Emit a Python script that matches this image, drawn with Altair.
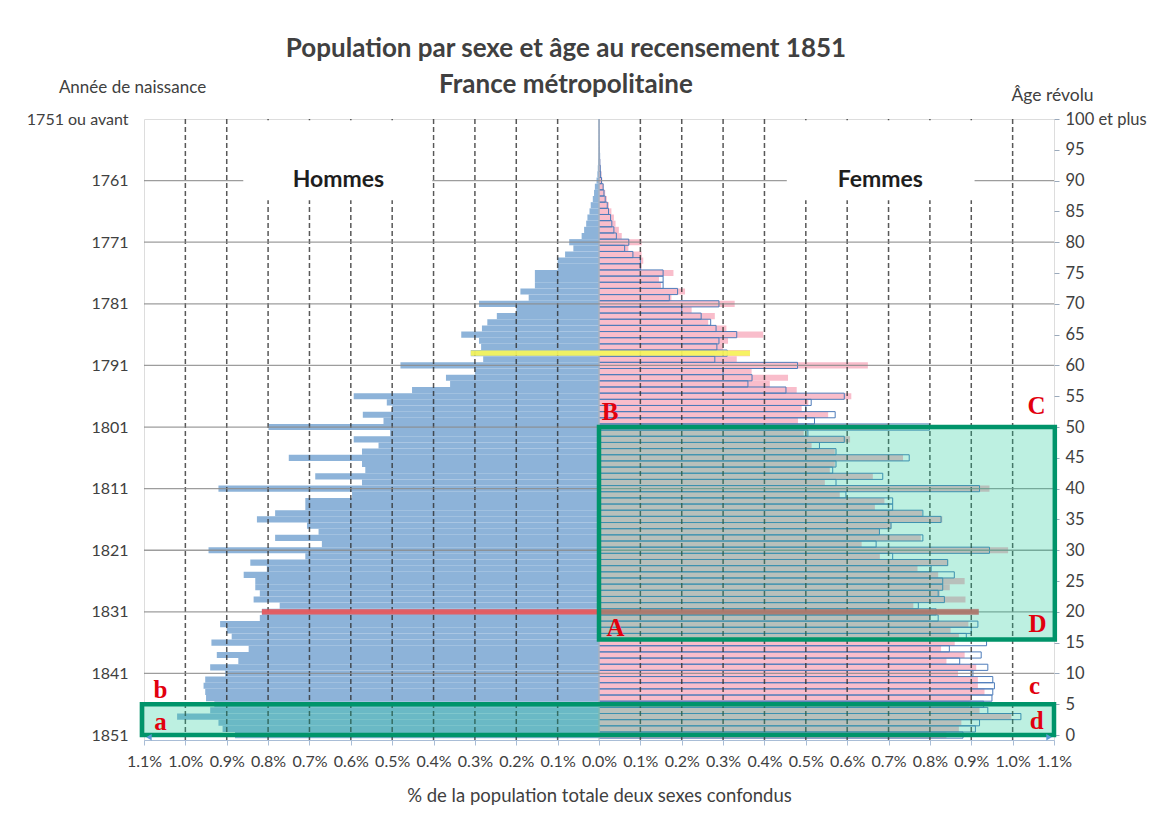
import altair as alt
import pandas as pd

# ---------------- data ----------------
AGES = list(range(101))

HOMMES = [
    0.88, 0.91, 0.92, 1.02, 0.94, 0.93, 0.95, 0.952, 0.956, 0.952,   # 0-9
    0.904, 0.94, 0.872, 0.924, 0.847, 0.937, 0.888, 0.90, 0.916, 0.82,  # 10-19
    0.815, 0.772, 0.835, 0.82, 0.831, 0.831, 0.859, 0.803, 0.843, 0.71,  # 20-29
    0.944, 0.67, 0.783, 0.678, 0.706, 0.827, 0.783, 0.71, 0.71, 0.597,   # 30-39
    0.92, 0.573, 0.686, 0.565, 0.573, 0.75, 0.573, 0.533, 0.593, 0.505,  # 40-49
    0.799, 0.521, 0.571, 0.50, 0.513, 0.593, 0.452, 0.36, 0.37, 0.30,    # 50-59
    0.48, 0.28, 0.31, 0.285, 0.29, 0.333, 0.283, 0.27, 0.247, 0.20,      # 60-69
    0.29, 0.17, 0.19, 0.155, 0.155, 0.155, 0.10, 0.10, 0.082, 0.062,     # 70-79
    0.072, 0.042, 0.036, 0.031, 0.028, 0.023, 0.02, 0.015, 0.012, 0.01,  # 80-89
    0.006, 0.004, 0.003, 0.002, 0.0015, 0.001, 0.0008, 0.0006, 0.0005, 0.0004,  # 90-99
    0.0004,                                                              # 100+
]

FEMMES = [
    0.84, 0.87, 0.876, 0.997, 0.92, 0.895, 0.90, 0.932, 0.916, 0.916,    # 0-9
    0.868, 0.912, 0.84, 0.884, 0.827, 0.86, 0.87, 0.85, 0.893, 0.80,     # 10-19
    0.918, 0.76, 0.886, 0.824, 0.848, 0.884, 0.82, 0.77, 0.844, 0.679,   # 20-29
    0.989, 0.635, 0.778, 0.679, 0.707, 0.83, 0.781, 0.667, 0.69, 0.582,  # 30-39
    0.944, 0.546, 0.662, 0.558, 0.57, 0.735, 0.57, 0.514, 0.607, 0.495,  # 40-49
    0.70, 0.481, 0.554, 0.49, 0.506, 0.61, 0.478, 0.413, 0.457, 0.369,   # 50-59
    0.65, 0.333, 0.365, 0.30, 0.312, 0.397, 0.308, 0.264, 0.28, 0.224,   # 60-69
    0.328, 0.175, 0.208, 0.15, 0.145, 0.18, 0.103, 0.107, 0.103, 0.071,  # 70-79
    0.103, 0.055, 0.048, 0.04, 0.036, 0.03, 0.024, 0.019, 0.015, 0.011,  # 80-89
    0.008, 0.006, 0.004, 0.003, 0.002, 0.0015, 0.001, 0.0008, 0.0006, 0.0005,  # 90-99
    0.0005,                                                              # 100+
]

X_TICKS = [round(-1.1 + 0.1 * i, 1) for i in range(23)]
X_TICK_LABELS = ["1.1%", "1.0%", "0.9%", "0.8%", "0.7%", "0.6%", "0.5%", "0.4%",
                 "0.3%", "0.2%", "0.1%", "0.0%", "0.1%", "0.2%", "0.3%", "0.4%",
                 "0.5%", "0.6%", "0.7%", "0.8%", "0.9%", "1.0%", "1.1%"]
GRID_X = [v for v in X_TICKS if abs(v) not in (0.0, 1.1)]
GRID_Y = [10, 20, 30, 40, 50, 60, 70, 80, 90]

LEFT_TICKS = [0, 10, 20, 30, 40, 50, 60, 70, 80, 90, 100]
LEFT_LABELS = ["1851", "1841", "1831", "1821", "1811", "1801", "1791", "1781",
               "1771", "1761", "1751 ou avant"]
RIGHT_TICKS = list(range(0, 101, 5))
RIGHT_LABELS = [str(v) for v in range(0, 100, 5)] + ["100 et plus"]

HIGHLIGHT_AGES = [62, 20]
HIGHLIGHT_COLORS = ["#f6f65a", "#e8585c"]

BOX_X0 = [0.0, -1.105]
BOX_X1 = [1.102, 1.1]
BOX_Y0 = [15.5, 0.0]
BOX_Y1 = [50.0, 5.0]

LETTERS = ["A", "B", "C", "D", "a", "b", "c", "d"]
LETTER_X = [0.04, 0.027, 1.058, 1.06, -1.06, -1.06, 1.053, 1.058]
LETTER_Y = [17.4, 52.4, 53.4, 18.0, 2.1, 7.3, 8.0, 2.3]

SEX_LABELS = ["Hommes", "Femmes"]
SEX_X = [-0.63, 0.68]
SEX_Y = [90.1, 90.1]
SEX_BOX_X0 = [-0.86, 0.454]
SEX_BOX_X1 = [-0.403, 0.908]
SEX_BOX_Y0 = [86.8, 86.8]
SEX_BOX_Y1 = [99.8, 99.8]

# ---------------- styles ----------------
MALE = "#8db3d9"
FEMALE = "#f9bdcb"
OUTLINE = "#4d7cba"
TXT = "#404040"
FONT = "Lato"

W, H = 910, 621


def ternary(ticks, labels):
    parts = [f"datum.value == {t} ? '{l}'" for t, l in zip(ticks, labels)]
    return " : ".join(parts) + " : ''"


x_expr = " : ".join(
    f"round(datum.value * 10) == {round(t * 10)} ? '{l}'" for t, l in zip(X_TICKS, X_TICK_LABELS)
) + " : ''"

xs = alt.Scale(domain=[-1.1, 1.1], nice=False, zero=False)
ys = alt.Scale(domain=[-0.8, 100], nice=False, zero=False)

x_axis = alt.Axis(orient="bottom", values=X_TICKS, labelExpr=x_expr, grid=False, ticks=True,
                  tickSize=5, tickColor="#a9bdd6", domain=True, domainColor="#a9bdd6",
                  labelFontSize=16, labelColor=TXT, labelPadding=8, labelFont=FONT,
                  labelFlush=False, labelOverlap=False,
                  title="% de la population totale deux sexes confondus",
                  titleFontSize=18.5, titleFontWeight="normal", titleColor=TXT,
                  titlePadding=17, titleFont=FONT)

left_axis = alt.Axis(orient="left", values=LEFT_TICKS, labelExpr=ternary(LEFT_TICKS, LEFT_LABELS),
                     grid=False, ticks=False, tickSize=0, domain=False,
                     labelFontSize=16, labelColor=TXT, labelPadding=16, labelFont=FONT,
                     labelOverlap=False,
                     title="Année de naissance", titleAngle=0, titleAlign="center",
                     titleBaseline="alphabetic", titleX=-12, titleY=-27,
                     titleFontSize=17, titleFontWeight="normal", titleColor=TXT, titleFont=FONT)

right_axis = alt.Axis(orient="right", values=RIGHT_TICKS, labelExpr=ternary(RIGHT_TICKS, RIGHT_LABELS),
                      grid=False, ticks=True, tickSize=5, tickColor="#9aa9bb", domain=False,
                      labelFontSize=16.5, labelColor=TXT, labelPadding=6, labelFont=FONT,
                      labelOverlap=False,
                      title="Âge révolu", titleAngle=0, titleAlign="center",
                      titleBaseline="alphabetic", titleX=-2, titleY=-19,
                      titleFontSize=17.5, titleFontWeight="normal", titleColor=TXT, titleFont=FONT)

df = pd.DataFrame({"age": AGES, "hommes": HOMMES, "femmes": FEMMES})

base = alt.Chart(df).transform_calculate(
    y0="datum.age - 0.5", y1="datum.age + 0.5", xm="-datum.hommes", z="0"
)

male = base.mark_rect(color=MALE, clip=True).encode(
    x=alt.X("xm:Q", scale=xs, axis=x_axis),
    x2="z:Q",
    y=alt.Y("y0:Q", scale=ys, axis=left_axis),
    y2="y1:Q",
)

female = base.mark_rect(color=FEMALE, clip=True).encode(
    x=alt.X("z:Q", scale=xs, axis=None),
    x2="femmes:Q",
    y=alt.Y("y0:Q", scale=ys, axis=right_axis),
    y2="y1:Q",
)

outline = base.mark_rect(fillOpacity=0, stroke=OUTLINE, strokeWidth=1, clip=True).encode(
    x=alt.X("z:Q", scale=xs, axis=None),
    x2="hommes:Q",
    y=alt.Y("y0:Q", scale=ys, axis=None),
    y2="y1:Q",
)

vgrid = alt.Chart(pd.DataFrame({"x": GRID_X})).mark_rule(
    color="#2e2e2e", strokeDash=[5, 3], strokeWidth=1.5, opacity=0.8
).encode(x=alt.X("x:Q", scale=xs, axis=None))

zero_line = alt.Chart(pd.DataFrame({"x": [0.0]})).mark_rule(
    color="#c4c4c4", strokeWidth=1.2
).encode(x=alt.X("x:Q", scale=xs, axis=None))

hgrid = alt.Chart(pd.DataFrame({"y": GRID_Y})).mark_rule(
    color="#8c8c8c", strokeWidth=1.3, opacity=0.85
).encode(y=alt.Y("y:Q", scale=ys, axis=None))

sex_boxes = alt.Chart(pd.DataFrame({
    "x0": SEX_BOX_X0, "x1": SEX_BOX_X1, "y0": SEX_BOX_Y0, "y1": SEX_BOX_Y1
})).mark_rect(color="white").encode(
    x=alt.X("x0:Q", scale=xs, axis=None), x2="x1:Q",
    y=alt.Y("y0:Q", scale=ys, axis=None), y2="y1:Q",
)

sex_text = alt.Chart(pd.DataFrame({"t": SEX_LABELS, "x": SEX_X, "y": SEX_Y})).mark_text(
    font=FONT, fontSize=23, fontWeight="bold", color="#1e1e1e", baseline="middle"
).encode(
    x=alt.X("x:Q", scale=xs, axis=None), y=alt.Y("y:Q", scale=ys, axis=None), text="t:N"
)

hl_df = pd.DataFrame({
    "age": HIGHLIGHT_AGES,
    "xl": [-HOMMES[a] for a in HIGHLIGHT_AGES],
    "xr": [FEMMES[a] for a in HIGHLIGHT_AGES],
    "c": HIGHLIGHT_COLORS,
})
highlight = alt.Chart(hl_df).transform_calculate(
    y0="datum.age - 0.42", y1="datum.age + 0.42"
).mark_rect(opacity=0.92).encode(
    x=alt.X("xl:Q", scale=xs, axis=None), x2="xr:Q",
    y=alt.Y("y0:Q", scale=ys, axis=None), y2="y1:Q",
    color=alt.Color("c:N", scale=None, legend=None),
)

boxes = alt.Chart(pd.DataFrame({
    "x0": BOX_X0, "x1": BOX_X1, "y0": BOX_Y0, "y1": BOX_Y1
})).mark_rect(fill="#12c892", fillOpacity=0.28, stroke="#00946a", strokeWidth=4.5,
              strokeOpacity=1, clip=False).encode(
    x=alt.X("x0:Q", scale=xs, axis=None), x2="x1:Q",
    y=alt.Y("y0:Q", scale=ys, axis=None), y2="y1:Q",
)

letters = alt.Chart(pd.DataFrame({"t": LETTERS, "x": LETTER_X, "y": LETTER_Y})).mark_text(
    font="Liberation Serif", fontSize=25, fontWeight="bold", color="#e2000e", baseline="middle"
).encode(
    x=alt.X("x:Q", scale=xs, axis=None), y=alt.Y("y:Q", scale=ys, axis=None), text="t:N"
)

arrows = alt.Chart(pd.DataFrame({
    "x": [-1.088, 1.088], "y": [-0.35, -0.35], "s": ["triangle-left", "triangle-right"]
})).mark_point(filled=True, size=40, color="#5b9bd5", opacity=1, clip=False).encode(
    x=alt.X("x:Q", scale=xs, axis=None), y=alt.Y("y:Q", scale=ys, axis=None),
    shape=alt.Shape("s:N", scale=None, legend=None),
)

chart = alt.layer(
    male, female, outline, zero_line, vgrid, hgrid, sex_boxes, sex_text,
    highlight, boxes, letters, arrows,
).resolve_axis(x="independent", y="independent").properties(
    width=W, height=H,
    title=alt.TitleParams(
        text=["Population par sexe et âge au recensement 1851", "France métropolitaine"],
        fontSize=26, fontWeight="bold", color=TXT, font=FONT, anchor="middle",
        frame="group", dx=-33, dy=42, offset=22, lineHeight=36,
    ),
    autosize=alt.AutoSizeParams(type="none"),
    padding={"left": 136, "top": 111, "right": 100, "bottom": 66},
).configure_view(
    stroke="#79a6d6", strokeWidth=1.5
).configure(background="white")

chart.save("out.html", embed_options={"renderer": "svg", "actions": False})
